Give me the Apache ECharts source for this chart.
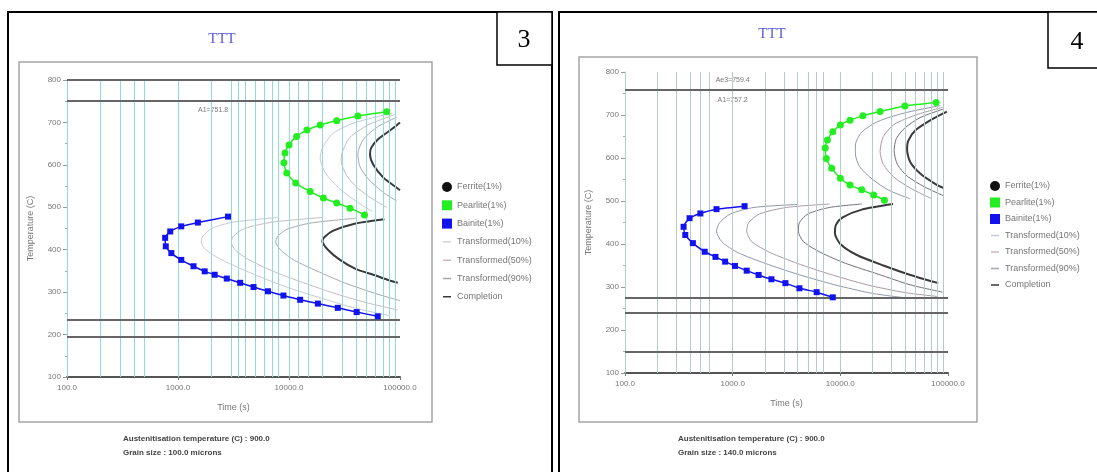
<!DOCTYPE html>
<html><head><meta charset="utf-8">
<script src="https://cdn.jsdelivr.net/npm/echarts@6/dist/echarts.min.js"></script>
<style>html,body{margin:0;padding:0;background:#fff;}#c{width:1097px;height:472px;}</style>
</head><body><div id="c"></div>
<script>
// ---------------- DATA ----------------
const legendNames = ['Ferrite(1%)','Pearlite(1%)','Bainite(1%)','Transformed(10%)','Transformed(50%)','Transformed(90%)','Completion'];
const yTicks = [100,200,300,400,500,600,700,800];
const xTicks = [100,1000,10000,100000];

// Chart 3 (left)  [time (s), temperature (C)]
const L_ferrite = [];
const L_pearlite = [[75900,725],[41700,715],[26900,704],[19100,694],[14500,682],[11700,667],[10000,647],[9200,628],[9000,605],[9550,581],[11500,557],[15500,537],[20400,522],[26900,510],[35500,498],[47900,482]];
const L_bainite = [[2820,478],[1510,464],[1070,455],[851,443],[766,428],[776,408],[871,392],[1070,376],[1380,361],[1740,349],[2140,341],[2750,332],[3630,322],[4790,312],[6460,302],[8910,292],[12600,282],[18200,273],[27500,263],[40700,253],[63100,243]];
const L_p10 = [[85100,722],[39800,700],[25100,675],[20000,640],[19100,615],[21400,580],[28200,545],[39800,515],[56200,490]];
const L_p50 = [[89100,718],[52500,695],[35500,665],[30200,630],[29500,610],[33100,575],[41700,545],[56200,520],[75900,500]];
const L_p90 = [[93300,712],[63100,690],[46800,660],[41700,625],[43700,595],[52500,565],[70800,535],[93300,515]];
const L_pComp = [[100000,700],[85100,685],[63100,660],[55000,640],[53700,625],[57500,600],[70800,570],[89100,550],[100000,540]];
const L_b10 = [[7940,476],[3160,465],[2000,450],[1660,430],[1620,418],[1780,400],[2400,378],[3550,357],[5620,335],[10000,310],[20000,285],[39800,262],[79400,245]];
const L_b50 = [[20000,476],[7080,465],[3980,450],[3160,432],[3020,418],[3310,398],[4470,375],[7080,350],[12600,325],[25100,298],[50100,275],[95500,258]];
const L_b90 = [[39800,474],[15800,463],[9550,448],[7940,432],[7590,418],[8510,398],[11200,375],[17800,350],[31600,322],[63100,295],[100000,280]];
const L_bComp = [[72400,472],[39800,462],[25100,445],[20900,430],[20000,420],[22400,400],[28800,376],[39800,355],[57500,341],[79400,328],[95500,322]];
const L_critTemps = [800,752,234,195];
const L_critLabels = [[2070,752,'A1=751.8','bottom']];
const L_gridTimes = [100,200,300,400,500,1000,2000,3000,3500,4000,5000,6000,7000,8000,10000,12000,15000,20000,30000,40000,50000,60000,70000,80000,90000];

// Chart 4 (right)
const R_ferrite = [];
const R_pearlite = [[77600,729],[39800,721],[23400,708],[16200,698],[12300,688],[10000,677],[8510,661],[7590,642],[7240,623],[7410,599],[8320,576],[10000,553],[12300,537],[15800,526],[20400,514],[25700,502]];
const R_bainite = [[1290,488],[708,481],[501,471],[398,460],[350,440],[363,421],[427,402],[550,382],[692,370],[851,359],[1050,349],[1350,338],[1740,328],[2290,318],[3090,309],[4170,297],[6030,288],[8510,276]];
const R_p10 = [[85100,722],[39800,705],[22400,685],[15800,660],[13800,630],[13800,610],[15100,580],[20000,550],[28200,525],[44700,505]];
const R_p50 = [[89100,718],[50100,700],[31600,678],[25100,650],[23400,615],[25100,585],[31600,555],[44700,530],[70800,505]];
const R_p90 = [[91200,714],[56200,695],[39800,670],[33100,645],[31600,617],[33900,585],[41700,558],[60300,533],[91200,512]];
const R_pComp = [[97700,708],[70800,690],[50100,665],[42700,640],[41700,619],[44700,590],[56200,562],[75900,540],[91200,530]];
const R_b10 = [[3980,492],[1580,485],[955,470],[759,450],[708,430],[794,405],[1120,380],[2000,355],[3980,330],[8910,305],[20000,285],[39800,275]];
const R_b50 = [[7940,493],[3160,485],[1780,470],[1410,450],[1350,430],[1510,405],[2240,380],[3980,355],[7940,330],[17800,305],[39800,287],[79400,278]];
const R_b90 = [[15800,493],[7940,485],[5010,470],[4170,450],[4070,430],[4570,405],[6610,380],[11200,355],[22400,330],[44700,305],[89100,288]];
const R_bComp = [[30900,493],[15800,480],[10500,462],[9120,445],[8910,425],[10000,400],[14100,375],[25100,350],[44700,328],[81300,309]];
const R_critTemps = [758,274,240,149];
const R_critLabels = [[1000,758,'Ae3=759.4','top'],[1000,758,'A1=757.2','bottom']];
const R_gridTimes = [100,200,300,400,500,600,1000,2000,3000,4000,5000,6000,7000,10000,20000,30000,40000,50000,60000,70000,80000,90000];

const infoL = ['Austenitisation temperature (C) : 900.0','Grain size : 100.0 microns'];
const infoR = ['Austenitisation temperature (C) : 900.0','Grain size : 140.0 microns'];

// ---------------- CHART ----------------
const chart = echarts.init(document.getElementById('c'));
const FONT = 'Liberation Sans';
const LINE_ICON = 'path://M0,0L0.01,0L0.01,0.01ZM1,4.3L9,4.3L9,5.7L1,5.7ZM9.99,9.99L10,10L9.99,10Z';

function xAxisCfg(gi){
  return {type:'log', logBase:10, gridIndex:gi, min:100, max:100000,
    name:'Time (s)', nameLocation:'middle', nameGap:26,
    nameTextStyle:{fontSize:9,color:'#777',fontFamily:FONT},
    axisLine:{lineStyle:{color:'#555',width:2}},
    axisTick:{show:true,length:3,lineStyle:{color:'#777'}},
    axisLabel:{fontSize:8,color:'#777',fontFamily:FONT,margin:7,formatter:v=>Number(v).toFixed(1)},
    splitLine:{show:false}};
}
function yAxisCfg(gi){
  return {type:'value', gridIndex:gi, min:100, max:800, interval:100,
    name:'Temperature (C)', nameLocation:'middle', nameGap:32, nameRotate:90,
    nameTextStyle:{fontSize:9,color:'#777',fontFamily:FONT},
    axisLine:{show:true,lineStyle:{color:'#bbb'}},
    axisTick:{show:true,length:4,lineStyle:{color:'#999'}},
    minorTick:{show:true,splitNumber:2,length:2,lineStyle:{color:'#aaa'}},
    axisLabel:{fontSize:8,color:'#777',fontFamily:FONT,margin:6},
    splitLine:{show:false}};
}

function buildSeries(gi, d, thin, vcol){
  const base = {xAxisIndex:gi, yAxisIndex:gi, animation:false};
  const thinLine = (name,data,color)=>Object.assign({}, base, {name, type:'line', data, symbol:'none', smooth:0.25,
      lineStyle:{color, width:1}, itemStyle:{color}, z:3});
  return [
    Object.assign({}, base, {name:'crit'+gi, type:'scatter', data:d.labels.map(l=>({value:[l[0],l[1],l[2]], label:{position:l[3]}})),
      symbolSize:1, itemStyle:{color:'rgba(0,0,0,0)'}, z:1, silent:true,
      label:{show:true, formatter:p=>p.value[2], fontSize:7, color:'#555', fontFamily:FONT, distance:6},
      markLine:{silent:true, symbol:['none','none'], label:{show:false}, animation:false,
        data: d.grid.map(t=>({xAxis:t, lineStyle:{color:vcol,width:1,type:'solid'}}))
          .concat(d.crit.map(T=>({yAxis:T, lineStyle:{color:'#666',width:2,type:'solid'}})))}}),
    Object.assign({}, base, {name:'Ferrite(1%)', type:'line', data:d.ferrite, symbol:'circle', symbolSize:7,
      itemStyle:{color:'#111'}, lineStyle:{color:'#111',width:1}, z:5}),
    Object.assign({}, base, {name:'Pearlite(1%)', type:'line', data:d.pearlite, symbol:'circle', symbolSize:7, smooth:0.2,
      itemStyle:{color:'#22ee22'}, lineStyle:{color:'#22ee22',width:1.5}, z:6}),
    Object.assign({}, base, {name:'Bainite(1%)', type:'line', data:d.bainite, symbol:'rect', symbolSize:6, smooth:0.2,
      itemStyle:{color:'#1212ee'}, lineStyle:{color:'#1212ee',width:1.5}, z:6}),
    thinLine('Transformed(10%)', d.p10, thin[0]), thinLine('Transformed(10%)', d.b10, thin[0]),
    thinLine('Transformed(50%)', d.p50, thin[1]), thinLine('Transformed(50%)', d.b50, thin[1]),
    thinLine('Transformed(90%)', d.p90, thin[2]), thinLine('Transformed(90%)', d.b90, thin[2]),
    Object.assign({}, base, {name:'Completion', type:'line', data:d.pComp, symbol:'none', smooth:0.25, lineStyle:{color:'#3a3a3a',width:2}, itemStyle:{color:'#3a3a3a'}, z:4}),
    Object.assign({}, base, {name:'Completion', type:'line', data:d.bComp, symbol:'none', smooth:0.25, lineStyle:{color:'#3a3a3a',width:2}, itemStyle:{color:'#3a3a3a'}, z:4})
  ];
}

const leftD = {ferrite:L_ferrite, pearlite:L_pearlite, bainite:L_bainite, p10:L_p10, p50:L_p50, p90:L_p90, pComp:L_pComp,
  b10:L_b10, b50:L_b50, b90:L_b90, bComp:L_bComp, crit:L_critTemps, labels:L_critLabels, grid:L_gridTimes};
const rightD = {ferrite:R_ferrite, pearlite:R_pearlite, bainite:R_bainite, p10:R_p10, p50:R_p50, p90:R_p90, pComp:R_pComp,
  b10:R_b10, b50:R_b50, b90:R_b90, bComp:R_bComp, crit:R_critTemps, labels:R_critLabels, grid:R_gridTimes};

const legendData = legendNames.map((n,i)=> i===0 ? {name:n, icon:'circle'} : (i<3 ? {name:n, icon:'rect'} : {name:n, icon:LINE_ICON}));
function legendCfg(left, top, gap){
  return {orient:'vertical', left, top, itemGap:gap, itemWidth:10, itemHeight:10, data:legendData,
    textStyle:{fontSize:9,color:'#777',fontFamily:FONT}, selectedMode:false};
}

const txt = (x,y,s,style)=>({type:'text', left:x, top:y, silent:true, style:Object.assign({text:s, fill:'#444', font:'bold 8px '+FONT}, style||{})});

chart.setOption({
  backgroundColor:'#fff',
  animation:false,
  grid:[{left:67, top:80, width:333, height:297},{left:625, top:72, width:323, height:301}],
  xAxis:[xAxisCfg(0), xAxisCfg(1)],
  yAxis:[yAxisCfg(0), yAxisCfg(1)],
  legend:[legendCfg(437,177,8.3), legendCfg(985,176,6.5)],
  series: buildSeries(0, leftD, ['#c4cad6','#c9b9c2','#a8a8b0'], '#8fdcdc')
    .concat(buildSeries(1, rightD, ['#8f98a8','#a99aa4','#70707a'], '#b4cccc')),
  graphic:[
    {type:'rect', shape:{x:8,y:12,width:544,height:480}, style:{fill:'none',stroke:'#000',lineWidth:2}, silent:true},
    {type:'rect', shape:{x:559,y:12,width:560,height:480}, style:{fill:'none',stroke:'#000',lineWidth:2}, silent:true},
    {type:'rect', shape:{x:19,y:62,width:413,height:360}, style:{fill:'none',stroke:'#a5a5a5',lineWidth:1.5}, silent:true},
    {type:'rect', shape:{x:579,y:57,width:398,height:365}, style:{fill:'none',stroke:'#a5a5a5',lineWidth:1.5}, silent:true},
    {type:'rect', shape:{x:497,y:12,width:55,height:53}, style:{fill:'#fff',stroke:'#000',lineWidth:1.5}, silent:true},
    {type:'rect', shape:{x:1048,y:12,width:60,height:56}, style:{fill:'#fff',stroke:'#000',lineWidth:1.5}, silent:true},
    {type:'text', x:524, y:40, silent:true, style:{text:'3', font:'26px Liberation Serif', fill:'#000', align:'center', verticalAlign:'middle'}},
    {type:'text', x:1077, y:42, silent:true, style:{text:'4', font:'26px Liberation Serif', fill:'#000', align:'center', verticalAlign:'middle'}},
    {type:'text', x:222, y:39, silent:true, style:{text:'TTT', font:'15px Liberation Serif', fill:'#5a5ae0', align:'center', verticalAlign:'middle'}},
    {type:'text', x:772, y:34, silent:true, style:{text:'TTT', font:'15px Liberation Serif', fill:'#5a5ae0', align:'center', verticalAlign:'middle'}},
    txt(123,435,infoL[0]), txt(123,449,infoL[1]),
    txt(678,435,infoR[0]), txt(678,449,infoR[1])
  ]
});
</script></body></html>
